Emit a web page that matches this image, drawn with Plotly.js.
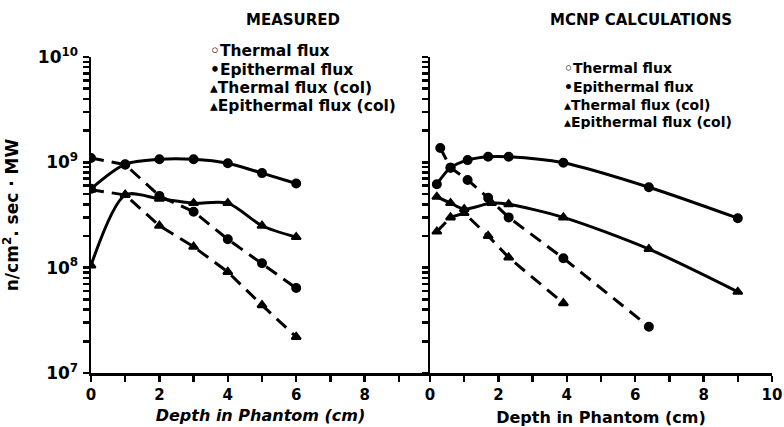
<!DOCTYPE html>
<html>
<head>
<meta charset="utf-8">
<script src="https://cdn.plot.ly/plotly-3.0.1.min.js"></script>
<style>html,body{margin:0;padding:0;background:#fff}#chart{width:784px;height:427px}</style>
</head>
<body>
<div id="chart"></div>
<script>
// ---- Measured (left panel) ----
const measDepth = [0, 1, 2, 3, 4, 5, 6];
const measThermal = [5.6e8, 9.6e8, 1.07e9, 1.07e9, 9.8e8, 7.9e8, 6.3e8];
const measEpi = [1.1e9, 9.5e8, 4.8e8, 3.4e8, 1.86e8, 1.1e8, 6.4e7];
const measThermalCol = [1.05e8, 4.9e8, 4.5e8, 4.1e8, 4.1e8, 2.5e8, 1.95e8];
const measEpiCol = [5.5e8, 4.9e8, 2.5e8, 1.58e8, 9.1e7, 4.4e7, 2.2e7];

// ---- MCNP calculations (right panel) ----
const calcThermalDepth = [0.2, 0.6, 1.1, 1.7, 2.3, 3.9, 6.4, 9.0];
const calcThermal = [6.2e8, 8.9e8, 1.05e9, 1.13e9, 1.13e9, 9.9e8, 5.8e8, 2.95e8];
const calcEpiDepth = [0.3, 0.6, 1.1, 1.7, 2.3, 3.9, 6.4];
const calcEpi = [1.37e9, 8.9e8, 6.8e8, 4.6e8, 3.0e8, 1.23e8, 2.75e7];
const calcThermalColDepth = [0.2, 0.6, 1.0, 1.8, 2.3, 3.9, 6.4, 9.0];
const calcThermalCol = [4.7e8, 4.1e8, 3.6e8, 4.1e8, 4.0e8, 3.0e8, 1.5e8, 5.9e7];
const calcEpiColDepth = [0.2, 0.6, 1.0, 1.7, 2.3, 3.9];
const calcEpiCol = [2.2e8, 3.0e8, 3.3e8, 2.0e8, 1.25e8, 4.6e7];

// ---- text ----
const seriesNames = ["Thermal flux", "Epithermal flux", "Thermal flux (col)", "Epithermal flux (col)"];
const legendGlyphs = ["◦", "•", "▴", "▴"];
const panelTitles = ["MEASURED", "MCNP CALCULATIONS"];
const xTitle = "Depth in Phantom (cm)";
const yTitle = "n/cm<sup>2</sup>. sec · MW";
const leftXTicks = [0, 2, 4, 6, 8];
const rightXTicks = [0, 2, 4, 6, 8, 10];
const yDecades = [1e7, 1e8, 1e9, 1e10];
const yDecadeLabels = ["10<sup>7</sup>", "10<sup>8</sup>", "10<sup>9</sup>", "10<sup>10</sup>"];
const yMinorMult = [2, 3, 4, 5, 6, 7, 8, 9];

const FONT = "DejaVu Sans";
const BLK = "#000000";
const solid = {color: BLK, width: 3, shape: "spline", smoothing: 0.8};
const dashed = {color: BLK, width: 3, dash: "13px,8px"};

function tr(name, x, y, line, sym, xa, ya) {
  return {name: name, x: x, y: y, mode: "lines+markers", line: line, xaxis: xa, yaxis: ya,
    marker: {symbol: sym, size: 8, color: BLK, line: {color: BLK, width: 2}}, showlegend: false, hoverinfo: "skip"};
}

const data = [
  tr(seriesNames[0], measDepth, measThermal, solid, "circle", "x", "y"),
  tr(seriesNames[1], measDepth, measEpi, dashed, "circle", "x", "y"),
  tr(seriesNames[2], measDepth, measThermalCol, solid, "triangle-up", "x", "y"),
  tr(seriesNames[3], measDepth, measEpiCol, dashed, "triangle-up", "x", "y"),
  tr(seriesNames[0], calcThermalDepth, calcThermal, solid, "circle", "x2", "y2"),
  tr(seriesNames[1], calcEpiDepth, calcEpi, dashed, "circle", "x2", "y2"),
  tr(seriesNames[2], calcThermalColDepth, calcThermalCol, solid, "triangle-up", "x2", "y2"),
  tr(seriesNames[3], calcEpiColDepth, calcEpiCol, dashed, "triangle-up", "x2", "y2")
];

const yTickVals = [], yTickText = [];
yDecades.forEach((d, i) => {
  yTickVals.push(d); yTickText.push(yDecadeLabels[i]);
  if (d < 1e10) yMinorMult.forEach(m => { yTickVals.push(d * m); yTickText.push(""); });
});
const xLeftVals = [], xLeftText = [];
[0,1,2,3,4,5,6,7,8,9].forEach(v => { xLeftVals.push(v); xLeftText.push(leftXTicks.includes(v) ? String(v) : ""); });
const xRightVals = [], xRightText = [];
[0,1,2,3,4,5,6,7,8,9,10].forEach(v => { xRightVals.push(v); xRightText.push(rightXTicks.includes(v) ? String(v) : ""); });

function yax(showLabels) {
  return {type: "log", range: [7, 10], tickmode: "array", tickvals: yTickVals, ticktext: yTickText,
    showgrid: false, zeroline: false, showline: true, linecolor: BLK, linewidth: 2.5,
    ticks: "outside", ticklen: 6, tickwidth: 2.5, tickcolor: BLK,
    showticklabels: showLabels, tickfont: {family: FONT, size: 17, color: BLK, weight: "bold"}, ticklabelstandoff: 1};
}
function yaxCross(over, anchor) {
  return {type: "log", range: [7, 10], overlaying: over, anchor: anchor, side: "left",
    tickmode: "array", tickvals: yTickVals, showticklabels: false,
    showgrid: false, zeroline: false, showline: false,
    ticks: "inside", ticklen: 5, tickwidth: 2.5, tickcolor: BLK};
}
function xax(domain, range, vals, text) {
  return {domain: domain, range: range, tickmode: "array", tickvals: vals, ticktext: text, showgrid: false, zeroline: false,
    showline: true, linecolor: BLK, linewidth: 2.5, ticks: "outside", ticklen: 6, tickwidth: 2.5, tickcolor: BLK,
    tickfont: {family: FONT, size: 15, color: BLK, weight: "bold"}};
}

const W = 681, H = 316, L = 91, T = 57;
const px = v => (v - L) / W;
const py = v => 1 - (v - T) / H;
const split = px(430);

const annotations = [
  {text: panelTitles[0], x: px(293), y: py(20)},
  {text: panelTitles[1], x: px(641), y: py(20)}
].map(a => ({text: a.text, xref: "paper", yref: "paper", x: a.x, y: a.y, xanchor: "center", yanchor: "middle",
  showarrow: false, font: {family: FONT, size: 15, weight: "bold", color: BLK}}));

const leftRows = [51, 69.5, 88, 106.5];
const rightRows = [68, 86, 104, 121];
seriesNames.forEach((n, i) => {
  annotations.push({text: legendGlyphs[i] + n, height: 16, borderpad: 0,
    xref: "paper", yref: "paper", x: px(209), y: py(leftRows[i]), xanchor: "left", yanchor: "middle",
    showarrow: false, font: {family: FONT, size: 15.5, weight: "bold", color: BLK}});
  annotations.push({text: legendGlyphs[i] + n, height: 15, borderpad: 0,
    xref: "paper", yref: "paper", x: px(563), y: py(rightRows[i]), xanchor: "left", yanchor: "middle",
    showarrow: false, font: {family: FONT, size: 14, weight: "bold", color: BLK}});
});

const layout = {
  width: 784, height: 427,
  margin: {l: L, r: 784 - L - W, t: T, b: 427 - T - H},
  paper_bgcolor: "#fff", plot_bgcolor: "#fff",
  font: {family: FONT, color: BLK},
  showlegend: false,
  xaxis: Object.assign(xax([0, split], [0, 339 / 34.2], xLeftVals, xLeftText),
    {anchor: "y", title: {text: xTitle, font: {family: FONT, size: 16, weight: "bold", style: "italic", color: BLK}, standoff: 8}}),
  xaxis2: Object.assign(xax([split, 1], [0, 10], xRightVals, xRightText),
    {anchor: "y2", title: {text: xTitle, font: {family: FONT, size: 16, weight: "bold", color: BLK}, standoff: 14}}),
  yaxis: Object.assign(yax(true), {anchor: "x",
    title: {text: yTitle, font: {family: FONT, size: 17, weight: "bold", color: BLK}, standoff: 16}}),
  yaxis2: Object.assign(yax(false), {anchor: "x2"}),
  yaxis3: yaxCross("y", "x"),
  yaxis4: yaxCross("y2", "x2"),
  annotations: annotations
};

Plotly.newPlot("chart", data, layout, {displayModeBar: false, staticPlot: true});
</script>
</body>
</html>
